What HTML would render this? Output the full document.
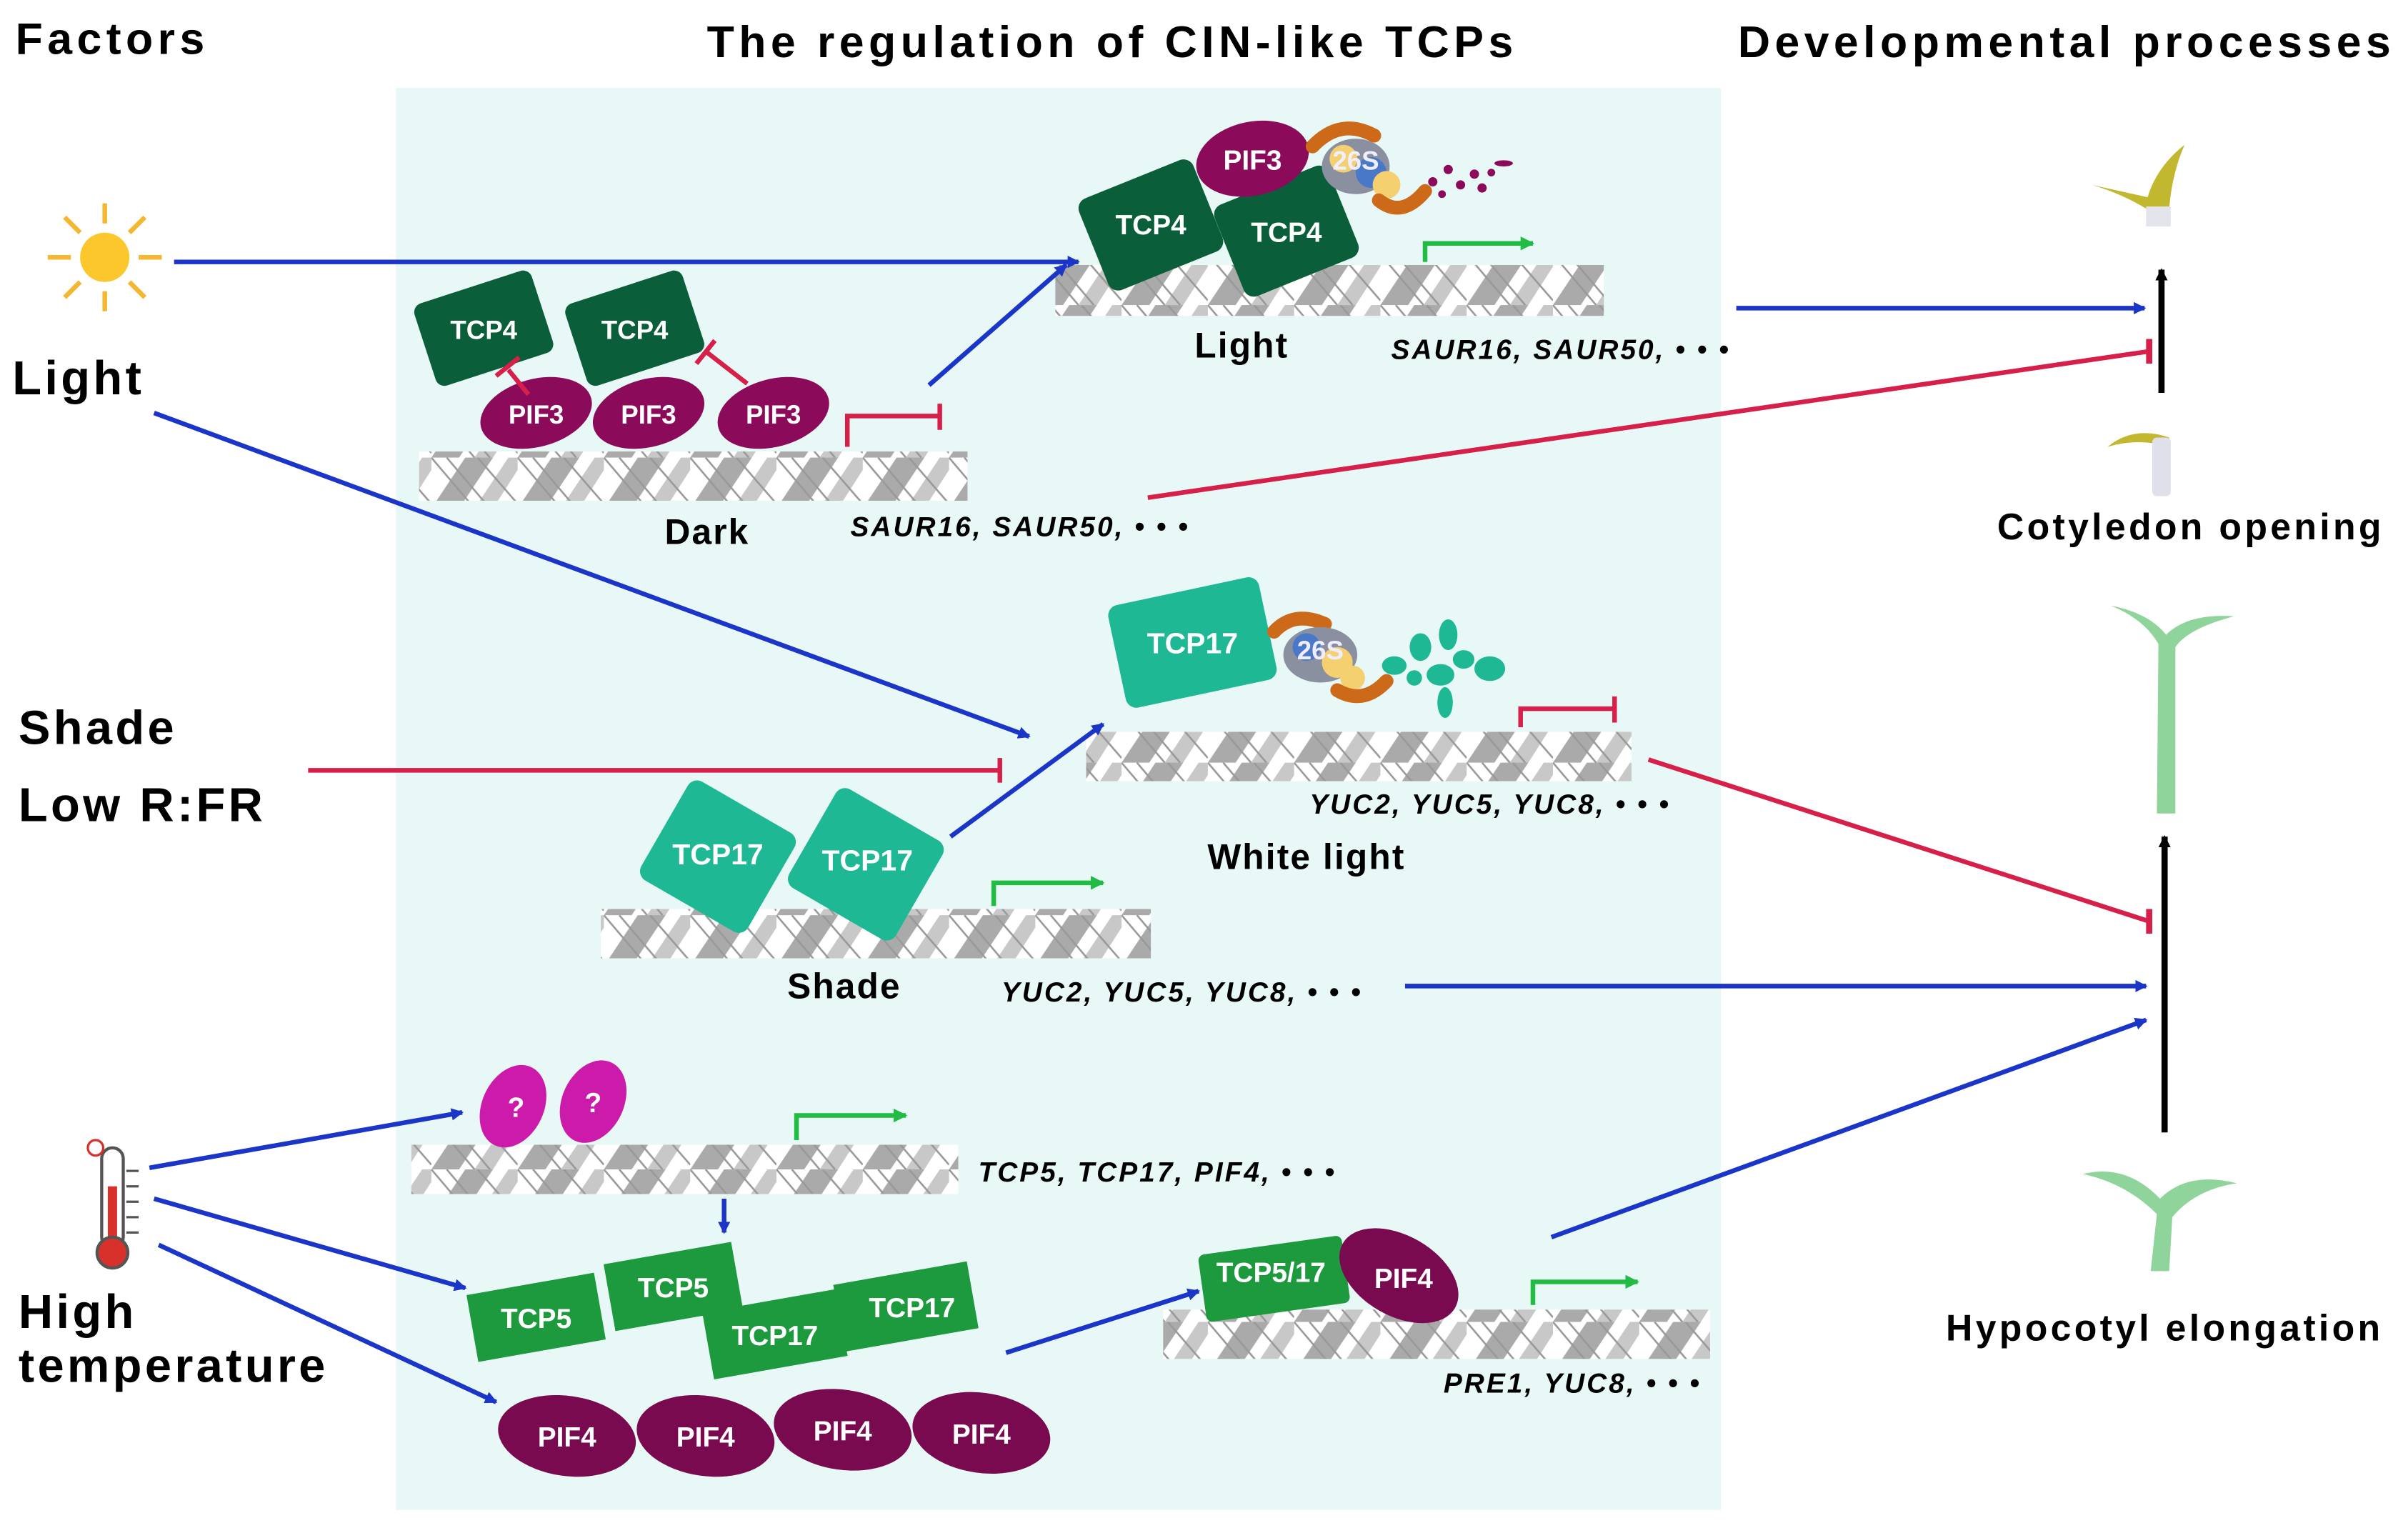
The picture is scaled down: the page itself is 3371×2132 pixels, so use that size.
<!DOCTYPE html>
<html><head><meta charset="utf-8"><style>
html,body{margin:0;padding:0;background:#fff}
svg{display:block}
text{font-family:"Liberation Sans",Arial,sans-serif;font-weight:bold}
.h{letter-spacing:3px}
.l{letter-spacing:2px}
.g{letter-spacing:1.4px}
.c{letter-spacing:1px}
</style></head><body>
<svg width="3371" height="2132" viewBox="0 0 1563 988.5" xmlns="http://www.w3.org/2000/svg">
<defs>
<pattern id="dna" width="56" height="33" patternUnits="userSpaceOnUse">
<rect width="56" height="33" fill="#fff"/>
<polygon points="0,33 22,0 40,0 18,33" fill="#aaa"/>
<polygon points="28,33 50,0 56,0 56,8 40,33" fill="#c8c8c8"/>
<path d="M0,0 L28,33 M10,0 L38,33 M30,0 L56,30" stroke="#999" stroke-width="1.2" fill="none"/>
</pattern>
<marker id="ab" markerWidth="8" markerHeight="8" refX="7" refY="4" orient="auto" markerUnits="userSpaceOnUse"><path d="M0,0 L8,4 L0,8z" fill="#1a35c8"/></marker>
<marker id="ag" markerWidth="9" markerHeight="9" refX="8" refY="4.5" orient="auto" markerUnits="userSpaceOnUse"><path d="M0,0 L9,4.5 L0,9z" fill="#22bb44"/></marker>
<marker id="ak" markerWidth="8" markerHeight="8" refX="7" refY="4" orient="auto" markerUnits="userSpaceOnUse"><path d="M0,0 L8,4 L0,8z" fill="#000"/></marker>
</defs>
<rect x="257" y="57" width="860" height="923" fill="#e8f8f7"/>
<text class="h" x="10" y="35" font-size="29">Factors</text>
<text class="h" x="722" y="37" font-size="29" text-anchor="middle">The regulation of CIN-like TCPs</text>
<text class="h" x="1128" y="37" font-size="29">Developmental processes</text>
<!-- sun -->
<g transform="translate(68,167)" fill="#f5c430">
<circle r="16" fill="#fbc72c"/>
<g stroke="#f5b630" stroke-width="3">
<line x1="0" y1="-22" x2="0" y2="-35"/><line x1="0" y1="22" x2="0" y2="35"/><line x1="-22" y1="0" x2="-37" y2="0"/><line x1="22" y1="0" x2="37" y2="0"/>
<line x1="16" y1="16" x2="26" y2="26"/><line x1="-16" y1="16" x2="-26" y2="26"/><line x1="16" y1="-16" x2="26" y2="-26"/><line x1="-16" y1="-16" x2="-26" y2="-26"/></g></g>
<text class="l" x="8" y="256" font-size="31">Light</text>
<text class="l" x="12" y="483" font-size="31">Shade</text>
<text class="l" x="12" y="533" font-size="31">Low R:FR</text>
<text class="l" x="12" y="862" font-size="31">High</text>
<text class="l" x="12" y="897" font-size="31">temperature</text>
<!-- thermometer -->
<g>
<rect x="66" y="745" width="14" height="65" rx="7" fill="#fff" stroke="#555" stroke-width="2"/>
<rect x="70" y="770" width="6" height="40" fill="#d8302a"/>
<circle cx="73" cy="813" r="10" fill="#d8302a" stroke="#555" stroke-width="2"/>
<g stroke="#555" stroke-width="1.5"><line x1="82" y1="760" x2="90" y2="760"/><line x1="82" y1="770" x2="90" y2="770"/><line x1="82" y1="780" x2="90" y2="780"/><line x1="82" y1="790" x2="90" y2="790"/><line x1="82" y1="800" x2="90" y2="800"/></g>
<circle cx="62" cy="745" r="5" fill="none" stroke="#d8302a" stroke-width="1.5"/>
</g>
<!-- DNA strips -->
<rect x="685" y="172" width="356" height="33" fill="url(#dna)"/>
<rect x="272" y="293" width="356" height="32" fill="url(#dna)"/>
<rect x="705" y="475" width="354" height="32" fill="url(#dna)"/>
<rect x="390" y="590" width="357" height="32" fill="url(#dna)"/>
<rect x="267" y="743" width="355" height="32" fill="url(#dna)"/>
<rect x="755" y="850" width="355" height="32" fill="url(#dna)"/>
<!-- Dark -->
<g font-size="17" fill="#fff" text-anchor="middle">
<rect x="-40" y="-28" width="80" height="56" rx="6" fill="#0b5e3a" transform="translate(314,213) rotate(-18)"/>
<text x="314" y="220">TCP4</text>
<rect x="-40" y="-28" width="80" height="56" rx="6" fill="#0b5e3a" transform="translate(412,213) rotate(-18)"/>
<text x="412" y="220">TCP4</text>
<ellipse cx="348" cy="268" rx="37" ry="22" fill="#8b0a5a" transform="rotate(-15 348 268)"/><text x="348" y="275">PIF3</text>
<ellipse cx="421" cy="268" rx="37" ry="22" fill="#8b0a5a" transform="rotate(-15 421 268)"/><text x="421" y="275">PIF3</text>
<ellipse cx="502" cy="268" rx="37" ry="22" fill="#8b0a5a" transform="rotate(-15 502 268)"/><text x="502" y="275">PIF3</text>
</g>
<g stroke="#d6204a" stroke-width="3" fill="none">
<line x1="330" y1="240" x2="343" y2="256"/><line x1="337" y1="232" x2="322" y2="244" />
<line x1="485" y1="249" x2="458" y2="228"/><line x1="452" y1="236" x2="464" y2="221"/>
<path d="M550,290 V270 H610"/><line x1="610" y1="262" x2="610" y2="279"/>
</g>
<text class="c" x="459" y="353" font-size="23" text-anchor="middle">Dark</text>
<text class="g" x="552" y="348" font-size="18" font-style="italic">SAUR16, SAUR50, • • •</text>
<line x1="603" y1="250" x2="692" y2="172" stroke="#1a35c8" stroke-width="3" marker-end="url(#ab)"/>
<line x1="113" y1="170" x2="700" y2="170" stroke="#1a35c8" stroke-width="3" marker-end="url(#ab)"/>
<!-- Light -->
<g font-size="18" fill="#fff" text-anchor="middle">
<rect x="-40" y="-32" width="80" height="64" rx="7" fill="#0b5e3a" transform="translate(747,146) rotate(-22)"/>
<text x="747" y="152">TCP4</text>
<rect x="-40" y="-32" width="80" height="64" rx="7" fill="#0b5e3a" transform="translate(835,150) rotate(-22)"/>
<text x="835" y="157">TCP4</text>
<ellipse cx="813" cy="103" rx="37" ry="24" fill="#8b0a5a" transform="rotate(-12 813 103)"/><text x="813" y="110">PIF3</text>
</g>
<g>
<path d="M852,95 Q870,76 892,88" stroke="#cc6a1a" stroke-width="9" fill="none" stroke-linecap="round"/>
<ellipse cx="880" cy="108" rx="22" ry="18" fill="#8a90a0"/>
<circle cx="872" cy="103" r="9" fill="#f5d070"/><circle cx="890" cy="112" r="10" fill="#4a78c8"/><circle cx="900" cy="120" r="9" fill="#f5d070"/>
<path d="M895,130 Q910,142 925,124" stroke="#cc6a1a" stroke-width="9" fill="none" stroke-linecap="round"/>
<text x="880" y="110" font-size="17" fill="#eef" text-anchor="middle">26S</text>
<g fill="#8b0a5a"><circle cx="930" cy="118" r="3"/><circle cx="940" cy="110" r="3"/><circle cx="948" cy="120" r="3"/><circle cx="957" cy="113" r="3"/><circle cx="962" cy="122" r="3"/><circle cx="936" cy="126" r="2.5"/><ellipse cx="976" cy="106" rx="6" ry="2"/><circle cx="968" cy="112" r="2.5"/></g>
</g>
<path d="M925,170 V158 H995" stroke="#22bb44" stroke-width="3" fill="none" marker-end="url(#ag)"/>
<text class="c" x="806" y="232" font-size="23" text-anchor="middle">Light</text>
<text class="g" x="903" y="233" font-size="18" font-style="italic">SAUR16, SAUR50, • • •</text>
<line x1="1127" y1="200" x2="1392" y2="200" stroke="#1a35c8" stroke-width="3" marker-end="url(#ab)"/>
<line x1="745" y1="323" x2="1395" y2="228" stroke="#d6204a" stroke-width="3"/>
<line x1="1395" y1="220" x2="1395" y2="236" stroke="#d6204a" stroke-width="4"/>
<line x1="1403" y1="255" x2="1403" y2="175" stroke="#000" stroke-width="4" marker-end="url(#ak)"/>
<!-- top seedlings -->
<path d="M1358,120 L1394,128 Q1400,108 1418,94 Q1410,112 1408,135 L1394,136 Q1378,126 1358,120z" fill="#c2b830"/>
<rect x="1393" y="134" width="16" height="13" fill="#e4e4ec"/>
<path d="M1368,290 Q1385,276 1408,284 L1408,290 Q1388,284 1368,290z" fill="#c2b830"/>
<rect x="1397" y="284" width="12" height="38" rx="3" fill="#e0e0ea"/>
<text class="l" x="1422" y="350" font-size="24" text-anchor="middle">Cotyledon opening</text>
<!-- White light -->
<line x1="100" y1="268" x2="668" y2="478" stroke="#1a35c8" stroke-width="3" marker-end="url(#ab)"/>
<line x1="200" y1="500" x2="648" y2="500" stroke="#d6204a" stroke-width="3"/>
<line x1="649" y1="492" x2="649" y2="508" stroke="#d6204a" stroke-width="3"/>
<rect x="-50" y="-34" width="100" height="68" rx="7" fill="#1fb894" transform="translate(774,417) rotate(-12)"/>
<text x="774" y="424" font-size="19" fill="#fff" text-anchor="middle">TCP17</text>
<g>
<path d="M827,410 Q840,396 860,405" stroke="#cc6a1a" stroke-width="9" fill="none" stroke-linecap="round"/>
<ellipse cx="857" cy="425" rx="24" ry="18" fill="#8a90a0"/>
<circle cx="848" cy="420" r="9" fill="#4a78c8"/><circle cx="868" cy="430" r="10" fill="#f5d070"/><circle cx="878" cy="440" r="8" fill="#f5d070"/>
<path d="M868,448 Q885,458 900,442" stroke="#cc6a1a" stroke-width="9" fill="none" stroke-linecap="round"/>
<text x="857" y="428" font-size="17" fill="#eef" text-anchor="middle">26S</text>
<g fill="#1fb894"><ellipse cx="905" cy="432" rx="8" ry="6"/><ellipse cx="922" cy="420" rx="7" ry="9"/><ellipse cx="940" cy="412" rx="6" ry="10"/><ellipse cx="935" cy="438" rx="9" ry="7"/><ellipse cx="950" cy="428" rx="7" ry="6"/><ellipse cx="967" cy="434" rx="10" ry="8"/><ellipse cx="938" cy="456" rx="5" ry="10"/><ellipse cx="918" cy="440" rx="5" ry="5"/></g>
</g>
<g stroke="#d6204a" stroke-width="3" fill="none"><path d="M987,472 V460 H1048"/><line x1="1048" y1="452" x2="1048" y2="469"/></g>
<text class="g" x="850" y="528" font-size="18" font-style="italic">YUC2, YUC5, YUC8, • • •</text>
<text class="c" x="848" y="564" font-size="23" text-anchor="middle">White light</text>
<line x1="617" y1="543" x2="716" y2="470" stroke="#1a35c8" stroke-width="3" marker-end="url(#ab)"/>
<line x1="1070" y1="493" x2="1395" y2="598" stroke="#d6204a" stroke-width="3"/>
<line x1="1395" y1="590" x2="1395" y2="606" stroke="#d6204a" stroke-width="4"/>
<!-- Shade -->
<rect x="-40" y="-37" width="80" height="74" rx="7" fill="#1fb894" transform="translate(466,556) rotate(30)"/>
<text x="466" y="561" font-size="19" fill="#fff" text-anchor="middle">TCP17</text>
<rect x="-40" y="-37" width="80" height="74" rx="7" fill="#1fb894" transform="translate(562,561) rotate(30)"/>
<text x="563" y="565" font-size="19" fill="#fff" text-anchor="middle">TCP17</text>
<path d="M645,588 V573 H716" stroke="#22bb44" stroke-width="3" fill="none" marker-end="url(#ag)"/>
<text class="c" x="548" y="648" font-size="23" text-anchor="middle">Shade</text>
<text class="g" x="650" y="650" font-size="18" font-style="italic">YUC2, YUC5, YUC8, • • •</text>
<line x1="912" y1="640" x2="1393" y2="640" stroke="#1a35c8" stroke-width="3" marker-end="url(#ab)"/>
<line x1="1405" y1="735" x2="1405" y2="543" stroke="#000" stroke-width="4" marker-end="url(#ak)"/>
<!-- tall seedling -->
<path d="M1370,393 Q1395,398 1406,412 Q1420,398 1450,400 Q1420,408 1412,420 L1412,528 L1400,528 L1401,418 Q1392,402 1370,393z" fill="#8fd49a"/>
<path d="M1352,762 Q1380,755 1402,778 Q1420,760 1452,768 Q1425,772 1410,790 L1408,825 L1396,825 L1400,788 Q1380,768 1352,762z" fill="#8fd49a"/>
<text class="l" x="1405" y="870" font-size="24" text-anchor="middle">Hypocotyl elongation</text>
<!-- Temperature -->
<ellipse cx="333" cy="718" rx="20" ry="28" fill="#cc1aaa" transform="rotate(25 333 718)"/><text x="335" y="725" font-size="18" fill="#fff" text-anchor="middle">?</text>
<ellipse cx="385" cy="715" rx="20" ry="28" fill="#cc1aaa" transform="rotate(25 385 715)"/><text x="385" y="722" font-size="18" fill="#fff" text-anchor="middle">?</text>
<path d="M517,740 V724 H588" stroke="#22bb44" stroke-width="3" fill="none" marker-end="url(#ag)"/>
<text class="g" x="635" y="767" font-size="18" font-style="italic">TCP5, TCP17, PIF4, • • •</text>
<line x1="97" y1="758" x2="300" y2="722" stroke="#1a35c8" stroke-width="3" marker-end="url(#ab)"/>
<line x1="100" y1="778" x2="302" y2="836" stroke="#1a35c8" stroke-width="3" marker-end="url(#ab)"/>
<line x1="103" y1="808" x2="322" y2="910" stroke="#1a35c8" stroke-width="3" marker-end="url(#ab)"/>
<line x1="470" y1="778" x2="470" y2="800" stroke="#1a35c8" stroke-width="3" marker-end="url(#ab)"/>
<g font-size="18" fill="#fff" text-anchor="middle">
<rect x="-42" y="-22" width="84" height="44" fill="#1e9a3e" transform="translate(348,855) rotate(-10)"/><text x="348" y="862">TCP5</text>
<rect x="-42" y="-22" width="84" height="44" fill="#1e9a3e" transform="translate(437,835) rotate(-10)"/><text x="437" y="842">TCP5</text>
<rect x="-44" y="-22" width="88" height="44" fill="#1e9a3e" transform="translate(503,866) rotate(-10)"/><text x="503" y="873">TCP17</text>
<rect x="-44" y="-22" width="88" height="44" fill="#1e9a3e" transform="translate(588,848) rotate(-10)"/><text x="592" y="855">TCP17</text>
<ellipse cx="368" cy="932" rx="45" ry="26" fill="#7a0a50" transform="rotate(8 368 932)"/><text x="368" y="939">PIF4</text>
<ellipse cx="458" cy="932" rx="45" ry="26" fill="#7a0a50" transform="rotate(8 458 932)"/><text x="458" y="939">PIF4</text>
<ellipse cx="547" cy="928" rx="45" ry="26" fill="#7a0a50" transform="rotate(8 547 928)"/><text x="547" y="935">PIF4</text>
<ellipse cx="637" cy="930" rx="45" ry="26" fill="#7a0a50" transform="rotate(8 637 930)"/><text x="637" y="937">PIF4</text>
</g>
<line x1="653" y1="878" x2="778" y2="838" stroke="#1a35c8" stroke-width="3" marker-end="url(#ab)"/>
<rect x="-47" y="-22" width="94" height="44" rx="4" fill="#1e9a3e" transform="translate(827,830) rotate(-8)"/>
<text x="825" y="832" font-size="18" fill="#fff" text-anchor="middle">TCP5/17</text>
<ellipse cx="908" cy="828" rx="42" ry="26" fill="#7a0a50" transform="rotate(30 908 828)"/>
<text x="911" y="836" font-size="18" fill="#fff" text-anchor="middle">PIF4</text>
<path d="M995,847 V832 H1063" stroke="#22bb44" stroke-width="3" fill="none" marker-end="url(#ag)"/>
<text class="g" x="937" y="904" font-size="18" font-style="italic">PRE1, YUC8, • • •</text>
<line x1="1007" y1="803" x2="1393" y2="662" stroke="#1a35c8" stroke-width="3" marker-end="url(#ab)"/>
</svg>
</body></html>
